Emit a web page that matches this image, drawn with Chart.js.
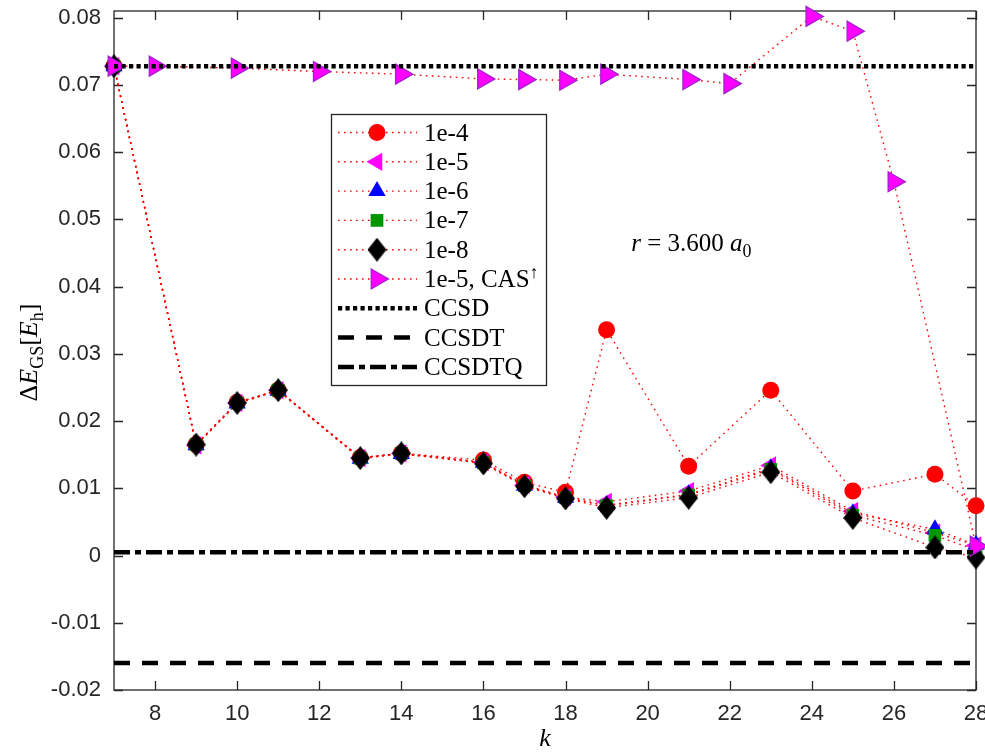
<!DOCTYPE html>
<html>
<head>
<meta charset="utf-8">
<script src="https://cdn.jsdelivr.net/npm/chart.js@4.4.1/dist/chart.umd.min.js"></script>
<style>
  html, body { margin: 0; padding: 0; background: #fff; }
  #wrap { width: 985px; height: 753px; }
</style>
</head>
<body>
<div id="wrap"><canvas id="chart-gs-energy" width="985" height="753"></canvas></div>
<script>
// bond dimension k for the truncation runs, and for the CAS-restricted run
const kValues = [7, 9, 10, 11, 13, 14, 16, 17, 18, 19, 21, 23, 25, 27, 28];
const kValuesCas = [7, 8, 10, 12, 14, 16, 17, 18, 19, 21, 22, 24, 25, 26, 28];

// ground-state energy error per truncation threshold (E_h)
const err1e4 = [0.0728, 0.0165, 0.0228, 0.0246, 0.0146, 0.0152, 0.0142, 0.0109, 0.0094, 0.0336, 0.0133, 0.0246, 0.0096, 0.0121, 0.0074];
const err1e5 = [0.0728, 0.0164, 0.0227, 0.0246, 0.0145, 0.0152, 0.0139, 0.0105, 0.0087, 0.0080, 0.0096, 0.0134, 0.0066, 0.0034, 0.0015];
const err1e6 = [0.0728, 0.0164, 0.0226, 0.0245, 0.0144, 0.0151, 0.0138, 0.0104, 0.0086, 0.0075, 0.0091, 0.0130, 0.0063, 0.0039, 0.0016];
const err1e7 = [0.0728, 0.0165, 0.0227, 0.0246, 0.0145, 0.0152, 0.0138, 0.0104, 0.0086, 0.0074, 0.0090, 0.0128, 0.0060, 0.0030, 0.0008];
const err1e8 = [0.0728, 0.0165, 0.0227, 0.0246, 0.0145, 0.0152, 0.0137, 0.0103, 0.0085, 0.0071, 0.0086, 0.0124, 0.0056, 0.0012, -0.0003];
const err1e5Cas = [0.0728, 0.0728, 0.0725, 0.0720, 0.0716, 0.0709, 0.0708, 0.0707, 0.0716, 0.0708, 0.0702, 0.0802, 0.0780, 0.0556, 0.0014];

// coupled-cluster reference levels
const ccsdLevel = 0.0728;
const ccsdtLevel = -0.0160;
const ccsdtqLevel = 0.0005;

const xTicks = [8, 10, 12, 14, 16, 18, 20, 22, 24, 26, 28];
const yTicks = [-0.02, -0.01, 0, 0.01, 0.02, 0.03, 0.04, 0.05, 0.06, 0.07, 0.08];
const yTickLabels = ['-0.02', '-0.01', '0', '0.01', '0.02', '0.03', '0.04', '0.05', '0.06', '0.07', '0.08'];

const AXIS_COLOR = '#262626';
const SERIF = '"Liberation Serif", "Times New Roman", serif';
const SANS = '"Liberation Sans", Arial, sans-serif';

// narrow diamond marker (taller than wide)
function diamondMarker(w, h, color) {
  const c = document.createElement('canvas');
  c.width = w;
  c.height = h;
  const g = c.getContext('2d');
  g.fillStyle = color;
  g.beginPath();
  g.moveTo(w / 2, 0);
  g.lineTo(w, h / 2);
  g.lineTo(w / 2, h);
  g.lineTo(0, h / 2);
  g.closePath();
  g.fill();
  return c;
}

function errSeries(label, ks, values, marker) {
  return Object.assign({
    label: label,
    data: ks.map((k, i) => ({x: k, y: values[i]})),
    borderColor: '#ff0000',
    borderWidth: 1.4,
    borderDash: [1.6, 4.4],
    pointBorderWidth: 0,
    clip: false
  }, marker);
}

function levelLine(label, level, dash) {
  return {
    label: label,
    data: [{x: 7, y: level}, {x: 28, y: level}],
    borderColor: '#000000',
    borderWidth: 4.5,
    borderDash: dash,
    pointRadius: 0,
    clip: false
  };
}

const datasets = [
  errSeries('1e-4', kValues, err1e4, {pointStyle: 'circle', pointRadius: 8.5, pointBackgroundColor: '#ff0000'}),
  errSeries('1e-5', kValues, err1e5, {pointStyle: 'triangle', pointRotation: -90, pointRadius: 10.5, pointBackgroundColor: '#ff00ff'}),
  errSeries('1e-6', kValues, err1e6, {pointStyle: 'triangle', pointRadius: 10, pointBackgroundColor: '#0000ff'}),
  errSeries('1e-7', kValues, err1e7, {pointStyle: 'rect', pointRadius: 9, pointBackgroundColor: '#009600'}),
  errSeries('1e-8', kValues, err1e8, {pointStyle: diamondMarker(19, 24, '#000000'), pointRadius: 12, pointBackgroundColor: '#000000'}),
  errSeries('1e-5, CAS', kValuesCas, err1e5Cas, {pointStyle: 'triangle', pointRotation: 90, pointRadius: 11.5,
    pointBackgroundColor: '#ff00ff', pointBorderColor: '#a020d0', pointBorderWidth: 1.3}),
  levelLine('CCSD', ccsdLevel, [4.2, 3.3]),
  levelLine('CCSDT', ccsdtLevel, [16, 12]),
  levelLine('CCSDTQ', ccsdtqLevel, [16, 5, 6, 5])
];
// later entries are drawn on top
datasets.forEach((d, i) => { d.order = datasets.length - i; });

// box frame with inward ticks on all four sides
const framePlugin = {
  id: 'frame',
  beforeDatasetsDraw(chart) {
    const {ctx, chartArea: a, scales: {x, y}} = chart;
    ctx.save();
    ctx.strokeStyle = AXIS_COLOR;
    ctx.lineWidth = 1.3;
    ctx.strokeRect(a.left, a.top, a.right - a.left, a.bottom - a.top);
    ctx.beginPath();
    xTicks.forEach(v => {
      const px = Math.round(x.getPixelForValue(v)) + 0.5;
      ctx.moveTo(px, a.bottom); ctx.lineTo(px, a.bottom - 9);
      ctx.moveTo(px, a.top); ctx.lineTo(px, a.top + 9);
    });
    yTicks.forEach(v => {
      const py = Math.round(y.getPixelForValue(v)) + 0.5;
      ctx.moveTo(a.left, py); ctx.lineTo(a.left + 9, py);
      ctx.moveTo(a.right, py); ctx.lineTo(a.right - 9, py);
    });
    ctx.stroke();
    ctx.restore();
  }
};

// draws a run of [text, style] pieces; style: 'i' italic, 'n' normal, 's' subscript, 'p' superscript
function pieceFont(st, size) {
  if (st === 's' || st === 'p') return Math.round(size * 0.7) + 'px ' + SERIF;
  return (st === 'i' ? 'italic ' : '') + size + 'px ' + SERIF;
}

function drawRich(ctx, parts, x, y, size) {
  let cx = x;
  parts.forEach(([t, st]) => {
    let dy = 0;
    if (st === 's') dy = size * 0.22;
    if (st === 'p') dy = -size * 0.38;
    ctx.font = pieceFont(st, size);
    ctx.fillText(t, cx, y + dy);
    cx += ctx.measureText(t).width;
  });
  return cx - x;
}

function richWidth(ctx, parts, size) {
  let w = 0;
  parts.forEach(([t, st]) => {
    ctx.font = pieceFont(st, size);
    w += ctx.measureText(t).width;
  });
  return w;
}

const legendEntries = [
  {label: [['1e-4', 'n']]},
  {label: [['1e-5', 'n']]},
  {label: [['1e-6', 'n']]},
  {label: [['1e-7', 'n']]},
  {label: [['1e-8', 'n']]},
  {label: [['1e-5, CAS', 'n'], ['\u2191', 'p']]},
  {label: [['CCSD', 'n']]},
  {label: [['CCSDT', 'n']]},
  {label: [['CCSDTQ', 'n']]}
];

const annotatePlugin = {
  id: 'annotate',
  afterDraw(chart) {
    const {ctx, chartArea: a, scales: {x, y}} = chart;
    ctx.save();
    ctx.textBaseline = 'alphabetic';

    // legend box
    const box = {left: 331, top: 114, right: 546, bottom: 385};
    ctx.fillStyle = '#fff';
    ctx.fillRect(box.left, box.top, box.right - box.left, box.bottom - box.top);
    ctx.strokeStyle = AXIS_COLOR;
    ctx.lineWidth = 1.3;
    ctx.strokeRect(box.left + 0.5, box.top + 0.5, box.right - box.left, box.bottom - box.top);

    chart.data.datasets.forEach((ds, i) => {
      const rowY = 132.5 + i * 29.3;
      ctx.save();
      ctx.strokeStyle = ds.borderColor;
      ctx.lineWidth = ds.borderWidth;
      ctx.setLineDash(ds.borderDash || []);
      ctx.beginPath();
      ctx.moveTo(338, rowY);
      ctx.lineTo(417, rowY);
      ctx.stroke();
      ctx.restore();
      if (ds.pointRadius) {
        ctx.save();
        ctx.fillStyle = ds.pointBackgroundColor;
        ctx.strokeStyle = ds.pointBorderColor || ds.pointBackgroundColor;
        ctx.lineWidth = ds.pointBorderWidth || 0;
        Chart.helpers.drawPoint(ctx, {
          pointStyle: ds.pointStyle,
          radius: ds.pointRadius,
          rotation: ds.pointRotation || 0,
          borderWidth: ds.pointBorderWidth || 0
        }, 377, rowY);
        ctx.restore();
      }
      ctx.fillStyle = '#000';
      drawRich(ctx, legendEntries[i].label, 424, rowY + 8, 25);
    });

    // bond length note
    ctx.fillStyle = '#000';
    drawRich(ctx, [['r', 'i'], [' = 3.600 ', 'n'], ['a', 'i'], ['0', 's']],
      x.getPixelForValue(19.6), y.getPixelForValue(0.0453), 25);

    // x axis title
    ctx.font = 'italic 26px ' + SERIF;
    ctx.textAlign = 'center';
    ctx.fillText('k', (a.left + a.right) / 2, 746);
    ctx.textAlign = 'left';

    // y axis title, rotated
    const yTitle = [['\u0394', 'n'], ['E', 'i'], ['GS', 's'], ['[', 'n'], ['E', 'i'], ['h', 's'], [']', 'n']];
    ctx.translate(37, (a.top + a.bottom) / 2 + 2);
    ctx.rotate(-Math.PI / 2);
    const w = richWidth(ctx, yTitle, 26);
    drawRich(ctx, yTitle, -w / 2, 0, 26);
    ctx.restore();
  }
};

new Chart(document.getElementById('chart-gs-energy'), {
  type: 'line',
  data: {datasets: datasets},
  options: {
    responsive: false,
    animation: false,
    devicePixelRatio: 1,
    layout: {autoPadding: false, padding: {top: 11, right: 9, left: 0, bottom: 0}},
    plugins: {legend: {display: false}, tooltip: {enabled: false}},
    scales: {
      x: {
        type: 'linear',
        min: 7,
        max: 28,
        grid: {display: false, drawTicks: false},
        border: {display: false},
        ticks: {font: {family: SANS, size: 22}, color: AXIS_COLOR, padding: 11, maxRotation: 0},
        afterBuildTicks: s => { s.ticks = xTicks.map(v => ({value: v})); },
        afterFit: s => { s.height = 63; s.paddingLeft = 0; s.paddingRight = 0; }
      },
      y: {
        type: 'linear',
        min: -0.02,
        max: 0.081,
        grid: {display: false, drawTicks: false},
        border: {display: false},
        ticks: {font: {family: SANS, size: 22}, color: AXIS_COLOR, padding: 13,
          callback: (v, i) => yTickLabels[i]},
        afterBuildTicks: s => { s.ticks = yTicks.map(v => ({value: v})); },
        afterFit: s => { s.width = 114; s.paddingTop = 0; s.paddingBottom = 0; }
      }
    }
  },
  plugins: [framePlugin, annotatePlugin]
});
</script>
</body>
</html>
